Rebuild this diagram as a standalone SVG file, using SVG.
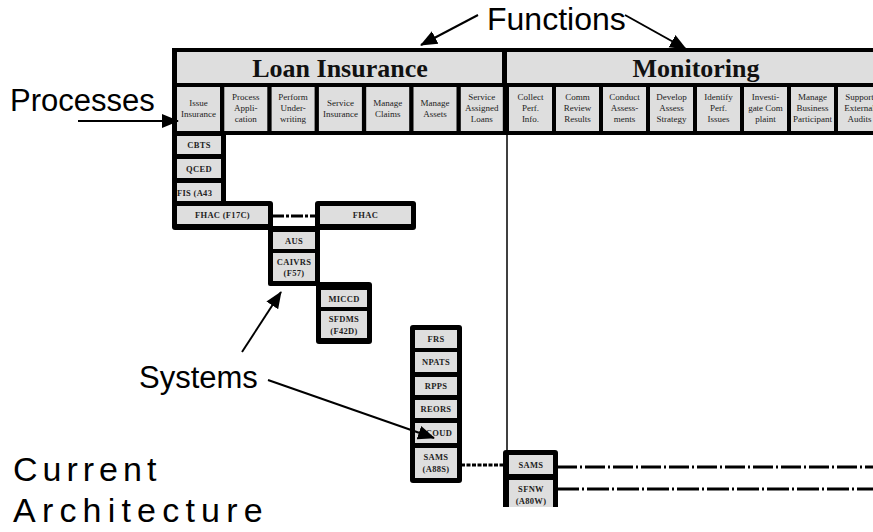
<svg xmlns="http://www.w3.org/2000/svg" width="873" height="532" viewBox="0 0 873 532">
  <style>
    .label { font-family: "Liberation Sans", Arial, sans-serif; fill: #000; }
    .frame { fill: #000; }
    .cell { fill: #dedede; }
    .head { font-family: "Liberation Serif", "Times New Roman", serif; font-weight: bold; font-size: 26px; fill: #111; text-anchor: middle; }
    .proc { font-family: "Liberation Serif", "Times New Roman", serif; font-size: 9px; fill: #222; text-anchor: middle; }
    .sys { font-family: "Liberation Serif", "Times New Roman", serif; font-weight: bold; font-size: 8.5px; fill: #222; text-anchor: middle; letter-spacing: 0.3px; }
    .link { fill: none; stroke: #000; stroke-width: 3; }
    .pointer { fill: none; stroke: #000; stroke-width: 2; }
  </style>
  <defs>
    <marker id="head" markerUnits="userSpaceOnUse" markerWidth="18" markerHeight="16" refX="16" refY="8" orient="auto">
      <path d="M0,1 L17,8 L0,15 Z" fill="#000"/>
    </marker>
    <clipPath id="viewClip">
      <rect x="0" y="0" width="873" height="507"/>
    </clipPath>
  </defs>

  <rect width="873" height="532" fill="#fff"/>

  <!-- Function / process matrix header -->
  <g id="matrix-header">
    <rect class="frame" x="172" y="48" width="701" height="87"/>
    <rect class="cell" x="177" y="52" width="325" height="31"/>
    <rect class="cell" x="507" y="52" width="370" height="31"/>
    <text class="head" x="340" y="77">Loan Insurance</text>
    <text class="head" x="696" y="77">Monitoring</text>
  </g>

  <g id="processes-loan-insurance">
    <rect class="cell" x="177" y="87" width="43" height="44"/>
    <text class="proc" x="198.5" y="106">Issue</text>
    <text class="proc" x="198.5" y="117">Insurance</text>
    <rect class="cell" x="224.3" y="87" width="43" height="44"/>
    <text class="proc" x="245.8" y="100">Process</text>
    <text class="proc" x="245.8" y="111">Appli-</text>
    <text class="proc" x="245.8" y="122">cation</text>
    <rect class="cell" x="271.6" y="87" width="43" height="44"/>
    <text class="proc" x="293.1" y="100">Perform</text>
    <text class="proc" x="293.1" y="111">Under-</text>
    <text class="proc" x="293.1" y="122">writing</text>
    <rect class="cell" x="318.9" y="87" width="43" height="44"/>
    <text class="proc" x="340.4" y="106">Service</text>
    <text class="proc" x="340.4" y="117">Insurance</text>
    <rect class="cell" x="366.2" y="87" width="43" height="44"/>
    <text class="proc" x="387.7" y="106">Manage</text>
    <text class="proc" x="387.7" y="117">Claims</text>
    <rect class="cell" x="413.5" y="87" width="43" height="44"/>
    <text class="proc" x="435" y="106">Manage</text>
    <text class="proc" x="435" y="117">Assets</text>
    <rect class="cell" x="460.8" y="87" width="42" height="44"/>
    <text class="proc" x="481.8" y="100">Service</text>
    <text class="proc" x="481.8" y="111">Assigned</text>
    <text class="proc" x="481.8" y="122">Loans</text>
  </g>

  <g id="processes-monitoring">
    <rect class="cell" x="509" y="87" width="43" height="44"/>
    <text class="proc" x="530.5" y="100">Collect</text>
    <text class="proc" x="530.5" y="111">Perf.</text>
    <text class="proc" x="530.5" y="122">Info.</text>
    <rect class="cell" x="556" y="87" width="43" height="44"/>
    <text class="proc" x="577.5" y="100">Comm</text>
    <text class="proc" x="577.5" y="111">Review</text>
    <text class="proc" x="577.5" y="122">Results</text>
    <rect class="cell" x="603" y="87" width="43" height="44"/>
    <text class="proc" x="624.5" y="100">Conduct</text>
    <text class="proc" x="624.5" y="111">Assess-</text>
    <text class="proc" x="624.5" y="122">ments</text>
    <rect class="cell" x="650" y="87" width="43" height="44"/>
    <text class="proc" x="671.5" y="100">Develop</text>
    <text class="proc" x="671.5" y="111">Assess</text>
    <text class="proc" x="671.5" y="122">Strategy</text>
    <rect class="cell" x="697" y="87" width="43" height="44"/>
    <text class="proc" x="718.5" y="100">Identify</text>
    <text class="proc" x="718.5" y="111">Perf.</text>
    <text class="proc" x="718.5" y="122">Issues</text>
    <rect class="cell" x="744" y="87" width="43" height="44"/>
    <text class="proc" x="765.5" y="100">Investi-</text>
    <text class="proc" x="765.5" y="111">gate Com</text>
    <text class="proc" x="765.5" y="122">plaint</text>
    <rect class="cell" x="791" y="87" width="43" height="44"/>
    <text class="proc" x="812.5" y="100">Manage</text>
    <text class="proc" x="812.5" y="111">Business</text>
    <text class="proc" x="812.5" y="122">Participant</text>
    <rect class="cell" x="838" y="87" width="43" height="44"/>
    <text class="proc" x="859.5" y="100">Support</text>
    <text class="proc" x="859.5" y="111">External</text>
    <text class="proc" x="859.5" y="122">Audits</text>
  </g>

  <!-- Connectors between systems -->
  <g id="connectors">
    <line x1="507" y1="134" x2="507" y2="452" stroke="#000" stroke-width="1.5"/>
    <line class="link" x1="272" y1="216" x2="316" y2="216" stroke-dasharray="12 2 3 2"/>
    <line class="link" x1="461" y1="465" x2="504" y2="465" stroke-dasharray="4 1.5"/>
    <line class="link" x1="557" y1="467" x2="873" y2="467" stroke-dasharray="20 3 2 3"/>
    <line class="link" x1="557" y1="489" x2="873" y2="489" stroke-dasharray="22 3 2 3"/>
  </g>

  <!-- System stacks -->
  <g id="systems-issue-insurance">
    <rect class="frame" x="172" y="131" width="54" height="75"/>
    <rect class="cell" x="177" y="136" width="44" height="18"/>
    <text class="sys" x="199" y="148">CBTS</text>
    <rect class="cell" x="177" y="159" width="44" height="19"/>
    <text class="sys" x="199" y="171.5">QCED</text>
    <rect class="cell" x="177" y="183" width="44" height="20"/>
    <text class="sys" x="177" y="196" style="text-anchor:start">FIS (A43</text>
  </g>

  <g id="system-fhac-f17c">
    <rect class="frame" x="172" y="201" width="101" height="29" rx="3"/>
    <rect class="cell" x="177" y="206" width="91" height="18"/>
    <text class="sys" x="222.5" y="218">FHAC (F17C)</text>
  </g>

  <g id="system-fhac">
    <rect class="frame" x="315" y="201" width="101" height="29" rx="3"/>
    <rect class="cell" x="320" y="206" width="91" height="18"/>
    <text class="sys" x="365.5" y="218">FHAC</text>
  </g>

  <g id="systems-underwriting">
    <rect class="frame" x="268" y="226" width="52" height="60" rx="2"/>
    <rect class="cell" x="273" y="232" width="42" height="17"/>
    <text class="sys" x="294" y="243.5">AUS</text>
    <rect class="cell" x="273" y="253" width="42" height="28"/>
    <text class="sys" x="294" y="264.5">CAIVRS</text>
    <text class="sys" x="294" y="276">(F57)</text>
  </g>

  <g id="systems-servicing">
    <rect class="frame" x="316" y="282" width="56" height="62" rx="3"/>
    <rect class="cell" x="321" y="290" width="46" height="17"/>
    <text class="sys" x="344" y="301.5">MICCD</text>
    <rect class="cell" x="321" y="311" width="46" height="27"/>
    <text class="sys" x="344" y="322">SFDMS</text>
    <text class="sys" x="344" y="333.5">(F42D)</text>
  </g>

  <g id="systems-assets">
    <rect class="frame" x="410" y="325" width="52" height="158" rx="3"/>
    <rect class="cell" x="415" y="330" width="42" height="18"/>
    <text class="sys" x="436" y="342">FRS</text>
    <rect class="cell" x="415" y="352" width="42" height="20"/>
    <text class="sys" x="436" y="365">NPATS</text>
    <rect class="cell" x="415" y="377" width="42" height="18"/>
    <text class="sys" x="436" y="389">RPPS</text>
    <rect class="cell" x="415" y="400" width="42" height="18"/>
    <text class="sys" x="436" y="412">REORS</text>
    <rect class="cell" x="415" y="423" width="42" height="20"/>
    <text class="sys" x="436" y="436">ECOUD</text>
    <rect class="cell" x="415" y="448" width="42" height="30"/>
    <text class="sys" x="436" y="460">SAMS</text>
    <text class="sys" x="436" y="472">(A88S)</text>
  </g>

  <g id="systems-monitoring" clip-path="url(#viewClip)">
    <rect class="frame" x="503" y="450" width="55" height="62" rx="3"/>
    <rect class="cell" x="509" y="455" width="44" height="19"/>
    <text class="sys" x="531" y="467.5">SAMS</text>
    <rect class="cell" x="509" y="480" width="44" height="30"/>
    <text class="sys" x="531" y="492">SFNW</text>
    <text class="sys" x="531" y="504">(A80W)</text>
  </g>

  <!-- Callout labels -->
  <g id="callout-functions">
    <text class="label" x="487" y="30" font-size="32">Functions</text>
    <line class="pointer" x1="478" y1="15" x2="421" y2="45" marker-end="url(#head)"/>
    <line class="pointer" x1="625" y1="15" x2="686" y2="49" marker-end="url(#head)"/>
  </g>

  <g id="callout-processes">
    <text class="label" x="10" y="111" font-size="31">Processes</text>
    <line class="pointer" x1="78" y1="121" x2="178" y2="121" marker-end="url(#head)"/>
  </g>

  <g id="callout-systems">
    <text class="label" x="139" y="388" font-size="31">Systems</text>
    <line class="pointer" x1="242" y1="352" x2="281" y2="292" marker-end="url(#head)"/>
    <line class="pointer" x1="268" y1="380" x2="434" y2="438" marker-end="url(#head)"/>
  </g>

  <g id="title">
    <text class="label" x="13" y="481" font-size="34" letter-spacing="5">Current</text>
    <text class="label" x="13" y="522" font-size="34" letter-spacing="6.2">Architecture</text>
  </g>
</svg>
